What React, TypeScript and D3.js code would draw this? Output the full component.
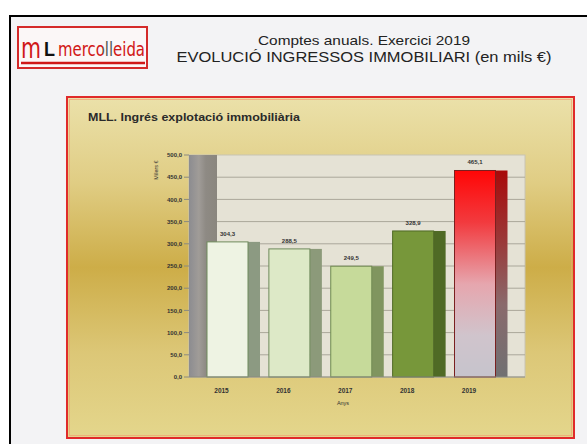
import React from 'react';
import * as d3 from 'd3';

// data
const years = ['2015', '2016', '2017', '2018', '2019'];
const income = [304.3, 288.5, 249.5, 328.9, 465.1];
const yTicks = [0, 50, 100, 150, 200, 250, 300, 350, 400, 450, 500];

// styles (front face, side face)
const frontFill = ['#eef3e3', '#dde9c7', '#c6da9a', '#77973a', 'url(#redFront)'];
const sideFill = ['#8c9a82', '#8c9a7a', '#80955f', '#4f6a25', 'url(#redSide)'];
const edge = ['#6f8a5c', '#6f8a5c', '#6f8a50', '#4f6a25', '#7a2020'];

const W = 587;
const H = 444;
const plot = { left: 189, right: 525, top: 155, bottom: 377 };

const fmt = (v: number) => v.toFixed(1).replace('.', ',');

const App: React.FC = () => {
    const y = d3.scaleLinear().domain([0, 500]).range([plot.bottom, plot.top]);
    const x = d3.scalePoint<string>().domain(years).range([227.5, 475]);
    const frontW = 41;
    const sideW = 12;
    const logoFont = "'DejaVu Sans Condensed', sans-serif";

    return (
        <svg width={W} height={H} style={{ position: 'absolute', left: 0, top: 0 }}
            fontFamily="'Liberation Sans', Arial, sans-serif">
            <defs>
                <linearGradient id="gold" x1="0" y1="0" x2="0" y2="1">
                    <stop offset="0" stopColor="#ebe1aa" />
                    <stop offset="0.25" stopColor="#e0cd84" />
                    <stop offset="0.5" stopColor="#cdad48" />
                    <stop offset="0.75" stopColor="#dcc777" />
                    <stop offset="1" stopColor="#e4d68c" />
                </linearGradient>
                <linearGradient id="redFront" x1="0" y1="0" x2="0" y2="1">
                    <stop offset="0" stopColor="#ff0606" />
                    <stop offset="0.25" stopColor="#f23a3e" />
                    <stop offset="0.55" stopColor="#e6a6ae" />
                    <stop offset="0.8" stopColor="#d0c4cc" />
                    <stop offset="1" stopColor="#c6c4cc" />
                </linearGradient>
                <linearGradient id="redSide" x1="0" y1="0" x2="0" y2="1">
                    <stop offset="0" stopColor="#a80a0a" />
                    <stop offset="0.35" stopColor="#9a3a3a" />
                    <stop offset="0.65" stopColor="#8a6a6c" />
                    <stop offset="1" stopColor="#707072" />
                </linearGradient>
                <linearGradient id="wall" x1="0" y1="0" x2="1" y2="0">
                    <stop offset="0" stopColor="#8c8c90" />
                    <stop offset="0.35" stopColor="#a09c98" />
                    <stop offset="0.6" stopColor="#8e8a84" />
                    <stop offset="1" stopColor="#8a867e" />
                </linearGradient>
                {/* red word with the "ll" in grey */}
                <linearGradient id="logoFill" gradientUnits="userSpaceOnUse" x1="58" y1="0" x2="145" y2="0">
                    <stop offset="0.52" stopColor="#d01818" />
                    <stop offset="0.52" stopColor="#555" />
                    <stop offset="0.63" stopColor="#555" />
                    <stop offset="0.63" stopColor="#d01818" />
                </linearGradient>
            </defs>

            <rect x={0} y={0} width={W} height={H} fill="#ffffff" />
            {/* outer frame, runs off the picture */}
            <rect x={10} y={16} width={640} height={480} fill="#f3f3f5" stroke="#000" strokeWidth={2} />

            {/* logo */}
            <rect x={18} y={27} width={129} height={41} fill="#fbf7f7" stroke="#d42a2a" strokeWidth={2} />
            <text x={21} y={58} fontSize={28} fill="#d01818" textLength={20} lengthAdjust="spacingAndGlyphs"
                fontFamily={logoFont}>m</text>
            <text x={44} y={56} fontSize={21} fontWeight="bold" fill="#111" textLength={11} lengthAdjust="spacingAndGlyphs">L</text>
            <text x={58} y={56} fontSize={20} fill="url(#logoFill)" textLength={87} lengthAdjust="spacingAndGlyphs"
                fontFamily={logoFont}>mercolleida</text>
            <line x1={21} x2={145} y1={63} y2={63} stroke="#d01818" strokeWidth={2.5} />

            {/* header */}
            <text x={364} y={45} fontSize={13} textAnchor="middle" fill="#222" textLength={212} lengthAdjust="spacingAndGlyphs">
                Comptes anuals. Exercici 2019
            </text>
            <text x={364} y={62} fontSize={14} textAnchor="middle" fill="#222" textLength={375} lengthAdjust="spacingAndGlyphs">
                EVOLUCIÓ INGRESSOS IMMOBILIARI (en mils €)
            </text>

            {/* chart panel */}
            <rect x={67} y={97} width={507} height={341} fill="url(#gold)" stroke="#e02a2a" strokeWidth={2} />
            <rect x={69.5} y={99.5} width={502} height={336} fill="none" stroke="#f2a070" strokeWidth={1} opacity={0.7} />
            <text x={88} y={121} fontSize={10} fontWeight="bold" fill="#2a2a2a" textLength={212} lengthAdjust="spacingAndGlyphs">
                MLL. Ingrés explotació immobiliària
            </text>

            {/* plot area */}
            <rect x={plot.left} y={plot.top} width={plot.right - plot.left} height={plot.bottom - plot.top}
                fill="#e5e2d5" stroke="#c8c4b4" strokeWidth={1} />
            {yTicks.map(t => (
                <g key={t}>
                    {t > 0 && t < 500 && (
                        <line x1={plot.left} x2={plot.right} y1={y(t)} y2={y(t)} stroke="#aaa79a" strokeWidth={1} />
                    )}
                    <line x1={plot.left - 5} x2={plot.left} y1={y(t)} y2={y(t)} stroke="#8a8a80" strokeWidth={1} />
                    <text x={182} y={y(t) + 2.2} fontSize={6} fontWeight="bold" textAnchor="end" fill="#333">
                        {fmt(t)}
                    </text>
                </g>
            ))}
            {/* left 3d wall */}
            <rect x={plot.left} y={plot.top} width={28} height={plot.bottom - plot.top} fill="url(#wall)" />

            {/* bars */}
            {years.map((yr, i) => {
                const cx = x(yr) as number;
                const top = y(income[i]);
                const h = plot.bottom - top;
                return (
                    <g key={yr}>
                        <rect x={cx + frontW / 2} y={top} width={sideW} height={h} fill={sideFill[i]} />
                        <rect x={cx - frontW / 2} y={top} width={frontW} height={h} fill={frontFill[i]}
                            stroke={edge[i]} strokeWidth={1} />
                        <text x={cx} y={top - 6} fontSize={6} fontWeight="bold" textAnchor="middle" fill="#333">
                            {fmt(income[i])}
                        </text>
                        <text x={cx - 6} y={393} fontSize={6.5} fontWeight="bold" textAnchor="middle" fill="#333">
                            {yr}
                        </text>
                    </g>
                );
            })}
            <line x1={plot.left} x2={plot.right} y1={plot.bottom} y2={plot.bottom} stroke="#8a8a80" strokeWidth={1} />

            {/* axis titles */}
            <text x={343} y={405} fontSize={5.5} textAnchor="middle" fill="#333">Anys</text>
            <text transform="translate(158,170) rotate(-90)" fontSize={5.5} textAnchor="middle" fill="#333">Milers €</text>
        </svg>
    );
};

export default App;
